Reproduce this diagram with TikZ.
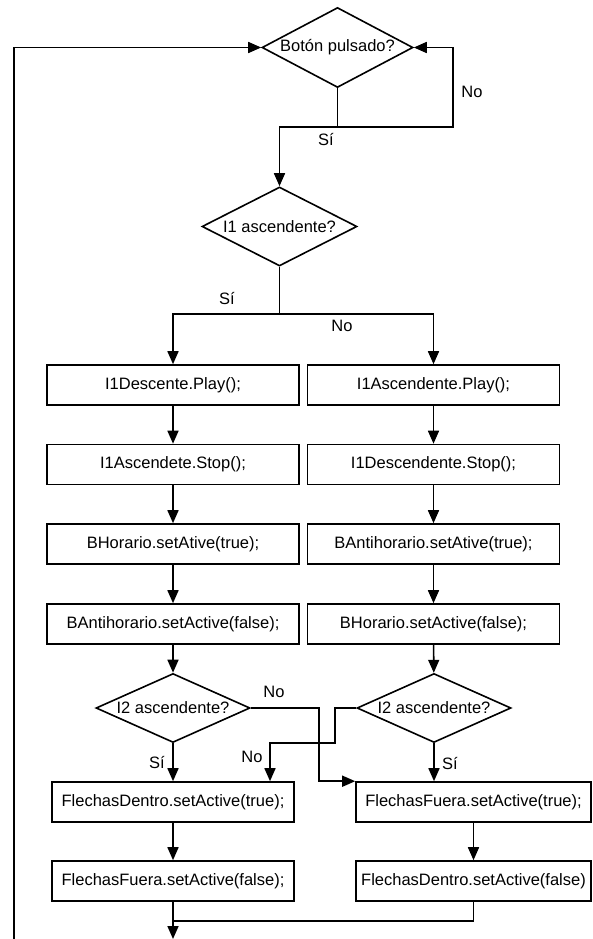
\documentclass[tikz,border=0pt]{standalone}
\usepackage{fontspec}
\setmainfont{Liberation Sans}
\usetikzlibrary{shapes.geometric, arrows.meta, positioning}

\begin{document}
\begin{tikzpicture}[x=1pt, y=-1pt, line width=1.6pt,
    every node/.style={font=\fontsize{16.5}{18}\selectfont},
    decision/.style={draw, shape=diamond, aspect=2, inner sep=0pt, minimum width=155pt, minimum height=79pt},
    process/.style={draw, rectangle, inner sep=3pt, minimum width=252pt, minimum height=40pt},
    arr/.style={-{Triangle[length=13pt, width=11pt]}}]
    \useasboundingbox (0,0) rectangle (593,939);

    % Decisions
    \node[decision, aspect=1.9, minimum width=151pt, minimum height=80pt] (boton) at (337.5,47.5) {Botón pulsado?};
    \node[decision] (asc1) at (279.5,226.5) {I1 ascendente?};
    \node[decision, aspect=2.2, minimum width=154pt, minimum height=69pt] (asc2l) at (173,708) {I2 ascendente?};
    \node[decision, aspect=2.2, minimum width=154pt, minimum height=69pt] (asc2r) at (434,708) {I2 ascendente?};

    % Left column
    \node[process] (l1) at (173,385) {I1Descente.Play();};
    \node[process] (l2) at (173,464.5) {I1Ascendete.Stop();};
    \node[process] (l3) at (173,544) {BHorario.setAtive(true);};
    \node[process] (l4) at (173,624) {BAntihorario.setActive(false);};
    \node[process, minimum width=242pt] (l5) at (173,802) {FlechasDentro.setActive(true);};
    \node[process, minimum width=242pt] (l6) at (173,881) {FlechasFuera.setActive(false);};

    % Right column
    \node[process] (r1) at (433.5,385) {I1Ascendente.Play();};
    \node[process] (r2) at (433.5,464.5) {I1Descendente.Stop();};
    \node[process] (r3) at (433.5,544) {BAntihorario.setAtive(true);};
    \node[process] (r4) at (433.5,624) {BHorario.setActive(false);};
    \node[process, minimum width=235pt, inner sep=1pt] (r5) at (473.5,802) {FlechasFuera.setActive(true);};
    \node[process, minimum width=235pt, inner sep=1pt] (r6) at (473.5,881) {FlechasDentro.setActive(false)};

    % Labels
    \node (no1) at (472,92) {No};
    \node (si1) at (326,140) {Sí};
    \node (si2) at (227,299) {Sí};
    \node (no2) at (342,326) {No};
    \node (no3) at (274,692) {No};
    \node (si3) at (157,762) {Sí};
    \node (no4) at (252,757) {No};
    \node (si4) at (450,763) {Sí};

    % Loops and junctions
    \coordinate (loopend) at (14,939);
    \coordinate (j1) at (337.5,127);
    \coordinate (j2) at (279.5,314);
    \coordinate (j3) at (173,921);
    \coordinate (out) at (173,939);

    \draw[arr] (loopend) |- (boton.west);
    \draw[arr] (boton.south) -- (j1) -- ++(115.5,0) |- (boton.east);
    \draw[arr] (j1) -| (asc1.north);
    \draw (asc1.south) -- (j2);
    \draw[arr] (j2) -| (l1.north);
    \draw[arr] (j2) -| (r1.north);

    % Straight arrows
    \foreach \a/\b in {l1/l2, l2/l3, l3/l4, l4/asc2l, asc2l/l5, l5/l6, r1/r2, r2/r3, r3/r4, r4/asc2r, r5/r6}
        \draw[arr] (\a) -- (\b);
    \draw[arr] (asc2r.south) -- (asc2r.south |- r5.north);

    % Crossing branches
    \draw[arr] (asc2l.east) -- ++(68,0) |- (r5.north west);
    \draw[arr] (asc2r.west) -- ++(-21,0) -- ++(0,35) -| ([xshift=97pt]l5.north);

    % Merge
    \draw (r6.south) |- (j3);
    \draw[arr] (l6.south) -- (out);
\end{tikzpicture}
\end{document}
